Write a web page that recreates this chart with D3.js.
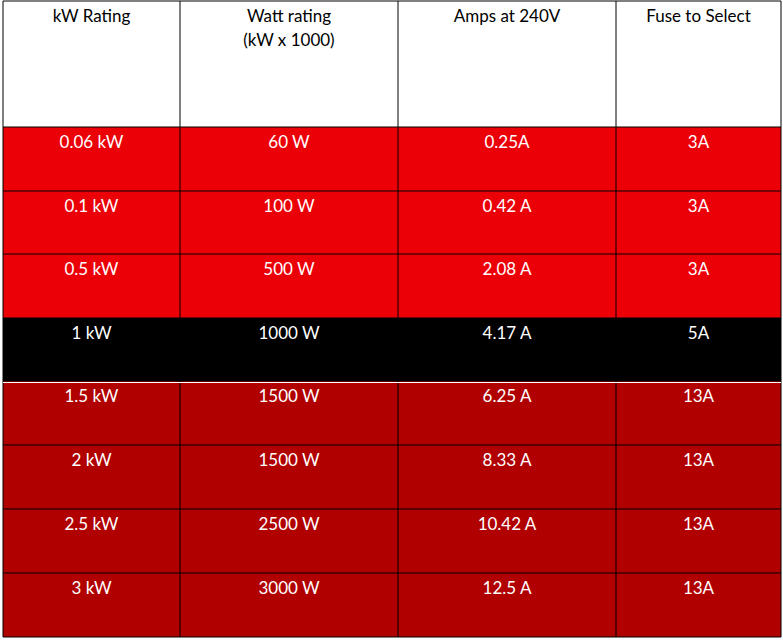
<!DOCTYPE html><html><head><meta charset="utf-8"><script src="https://d3js.org/d3.v7.min.js"></script>
<style>body{margin:0;background:#fff}</style></head><body><svg id="c" width="783" height="640"></svg>
<script>
const headers=[["kW Rating"],["Watt rating","(kW x 1000)"],["Amps at 240V"],["Fuse to Select"]];
const kw=["0.06 kW","0.1 kW","0.5 kW","1 kW","1.5 kW","2 kW","2.5 kW","3 kW"];
const watts=["60 W","100 W","500 W","1000 W","1500 W","1500 W","2500 W","3000 W"];
const amps=["0.25A","0.42 A","2.08 A","4.17 A","6.25 A","8.33 A","10.42 A","12.5 A"];
const fuse=["3A","3A","3A","5A","13A","13A","13A","13A"];
const rowFill=["#ec0008","#ec0008","#ec0008","#000000","#b00000","#b00000","#b00000","#b00000"];
const colEdges=[3,180,398,616,781];
const rowEdges=[1,127,191,254,318,381,445,509,573,637];
const svg=d3.select("#c");
const x=i=>colEdges[i], y=i=>rowEdges[i];
const rows=kw.map((k,i)=>[k,watts[i],amps[i],fuse[i]]);
const font="Lato, 'Open Sans', sans-serif";
// header
headers.forEach((h,c)=>{
 svg.append("rect").attr("x",x(c)).attr("y",y(0)).attr("width",x(c+1)-x(c)).attr("height",y(1)-y(0)).attr("fill","#fff");
 h.forEach((t,k)=>svg.append("text").attr("x",(x(c)+x(c+1))/2).attr("y",y(0)+21+k*24).attr("text-anchor","middle").attr("font-family",font).attr("font-size",17).attr("fill","#000").text(t));
});
rows.forEach((r,i)=>{
 r.forEach((t,c)=>{
  svg.append("rect").attr("x",x(c)).attr("y",y(i+1)).attr("width",x(c+1)-x(c)).attr("height",y(i+2)-y(i+1)).attr("fill",rowFill[i]);
  svg.append("text").attr("x",(x(c)+x(c+1))/2).attr("y",y(i+1)+21).attr("text-anchor","middle").attr("font-family",font).attr("font-size",17).attr("fill","#fff").text(t);
 });
});
// grid lines
colEdges.forEach(v=>svg.append("line").attr("x1",v).attr("x2",v).attr("y1",y(0)).attr("y2",y(9)).attr("stroke","#000").attr("stroke-width",1));
rowEdges.forEach(v=>svg.append("line").attr("x1",x(0)).attr("x2",x(4)).attr("y1",v).attr("y2",v).attr("stroke","#000").attr("stroke-width",1));
svg.append("line").attr("x1",x(0)).attr("x2",x(4)).attr("y1",y(5)+1.5).attr("y2",y(5)+1.5).attr("stroke","#fff").attr("stroke-width",1);
</script></body></html>
